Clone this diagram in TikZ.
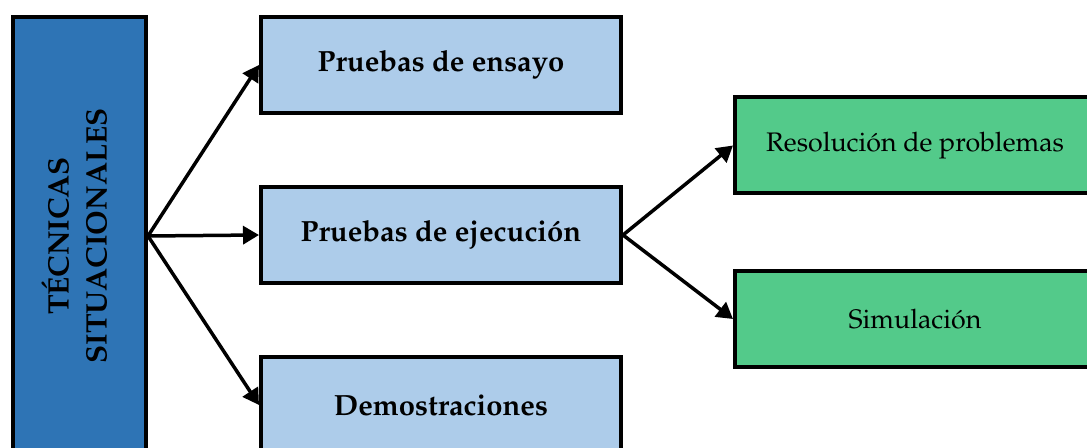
\documentclass[tikz,border=0pt]{standalone}
\usepackage[T1]{fontenc}
\usepackage{mathpazo}
\usetikzlibrary{arrows.meta}

\definecolor{mainblue}{HTML}{2E74B5}
\definecolor{lightblue}{HTML}{ADCCEA}
\definecolor{softgreen}{HTML}{53CA8A}

\begin{document}
\begin{tikzpicture}[x=0.5pt,y=-0.5pt,line width=1.75pt,
  mainbox/.style={rectangle,draw=black,fill=mainblue,line width=2pt,minimum width=66.5pt,minimum height=219pt,inner sep=0pt,font=\bfseries\fontsize{14.8}{19}\selectfont},
  testbox/.style={rectangle,draw=black,fill=lightblue,line width=2pt,minimum width=180pt,minimum height=48pt,font=\bfseries\fontsize{14.6}{17}\selectfont},
  subbox/.style={testbox,fill=softgreen,font=\fontsize{13.4}{17}\selectfont},
  link/.style={-{Triangle[length=8pt,width=9pt]}}]
  \clip (0,0) rectangle (1087,448);
  \path
  (79.5,236) node[mainbox] (tecnicas) {\rotatebox{90}{\begin{tabular}{@{}c@{}}T\'ECNICAS\\SITUACIONALES\end{tabular}}}

  (441,65) node[testbox] (ensayo) {Pruebas de ensayo}
  (441,235) node[testbox] (ejecucion) {Pruebas de ejecuci\'on}
  (441,405) node[testbox] (demos) {Demostraciones}

  (915,145.5) node[subbox] (problemas) {Resoluci\'on de problemas}
  (915,319) node[subbox] (simulacion) {Simulaci\'on}
  ;
  \draw[link] (tecnicas.east) -- (ensayo.west);
  \draw[link] (tecnicas.east) -- (ejecucion.west);
  \draw[link] (tecnicas.east) -- (demos.west);
  \draw[link] (ejecucion.east) -- (problemas.west);
  \draw[link] (ejecucion.east) -- (simulacion.west);
\end{tikzpicture}
\end{document}
